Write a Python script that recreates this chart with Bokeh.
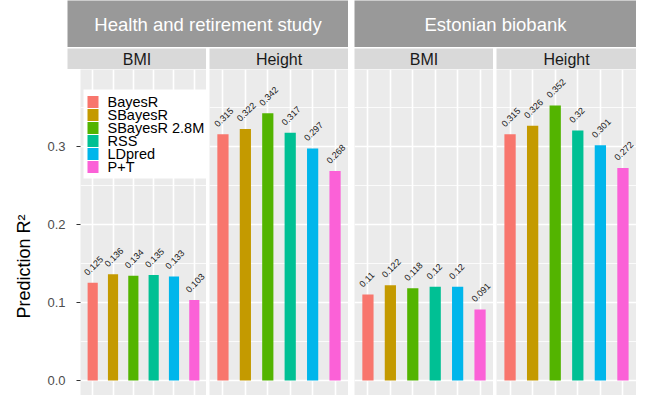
from bokeh.plotting import figure
from bokeh.models import (ColumnDataSource, Range1d, FixedTicker, Label, Title, Spacer,
                          BoxAnnotation)
from bokeh.layouts import row, column
from bokeh.embed import file_html
from bokeh.resources import INLINE
from bokeh.core.properties import value

# ---------------- data ----------------
methods = ["BayesR", "SBayesR", "SBayesR 2.8M", "RSS", "LDpred", "P+T"]
colors = ["#F8766D", "#C49A00", "#53B400", "#00C094", "#00B6EB", "#FB61D7"]
studies = ["Health and retirement study", "Estonian biobank"]
traits = ["BMI", "Height"]
hrs_bmi = [0.125, 0.136, 0.134, 0.135, 0.133, 0.103]
hrs_height = [0.315, 0.322, 0.342, 0.317, 0.297, 0.268]
eb_bmi = [0.11, 0.122, 0.118, 0.12, 0.12, 0.091]
eb_height = [0.315, 0.326, 0.352, 0.32, 0.301, 0.272]
y_ticks = [0.0, 0.1, 0.2, 0.3]
y_tick_labels = ["0.0", "0.1", "0.2", "0.3"]
y_minor = [0.05, 0.15, 0.25, 0.35]
y_title = "Prediction R²"

# ---------------- layout constants ----------------
FONT = "Liberation Sans"
LEFT = 67
PW = [139, 139, 139, 140]
STRIP_H = 47
SUB_H = 21
PANEL_H = 326
Y0, Y1 = -0.0191, 0.398
# legend geometry (screen px, measured from the panel frame's bottom-left)
LEG_LEFT, LEG_RIGHT, LEG_BOTTOM, LEG_TOP = 3, 135, 217, 306
KEY_LEFT, KEY_RIGHT, KEY_H = 7, 18, 12
ROW0, ROW_STEP, TEXT_X = 293.5, 13.0, 27


def base_fig(width, height, left=0, bg="#EBEBEB", xr=None, yr=None, yaxis=False):
    f = figure(width=width + left, height=height,
               x_range=xr if xr is not None else Range1d(0, 1),
               y_range=yr if yr is not None else Range1d(0, 1),
               output_backend="svg", toolbar_location=None,
               x_axis_location=None, y_axis_location="left" if yaxis else None,
               min_border=0, min_border_left=left,
               background_fill_color=bg, border_fill_color="white",
               outline_line_color=None)
    return f


def make_strip(text, width, height, fill, color, size, left=0, x_off=0):
    s = base_fig(width, height, left=left, bg=fill)
    s.grid.visible = False
    s.add_layout(Label(x=0.5, y=0.5, text=text, text_align="center", text_baseline="middle",
                       text_font=FONT, text_font_size=size, text_color=color, x_offset=x_off))
    return s


def screen_box(left, right, bottom, top, color):
    return BoxAnnotation(left=left, right=right, bottom=bottom, top=top,
                         left_units="screen", right_units="screen",
                         bottom_units="screen", top_units="screen",
                         fill_color=color, fill_alpha=1.0, line_color=None,
                         level="annotation")


def make_panel(vals, width, with_axis=False, with_legend=False):
    n = len(methods)
    xs = list(range(1, n + 1))
    src = ColumnDataSource(dict(x=xs, top=vals, color=colors, method=methods,
                                label=[f"{v:g}" for v in vals]))
    p = base_fig(width, PANEL_H, left=LEFT if with_axis else 0,
                 xr=Range1d(0.4, n + 0.6), yr=Range1d(Y0, Y1), yaxis=with_axis)
    p.xgrid.ticker = FixedTicker(ticks=xs, minor_ticks=[])
    p.xgrid.grid_line_color = "white"
    p.xgrid.grid_line_width = 1.6
    p.ygrid.ticker = FixedTicker(ticks=y_ticks, minor_ticks=y_minor)
    p.ygrid.grid_line_color = "white"
    p.ygrid.grid_line_width = 1.6
    p.ygrid.minor_grid_line_color = "white"
    p.ygrid.minor_grid_line_width = 0.8

    p.vbar(x="x", top="top", bottom=0, width=0.5, source=src,
           fill_color="color", line_color=None)
    p.text(x="x", y="top", text="label", source=src, angle=45, angle_units="deg",
           text_align="left", text_baseline="middle", x_offset=-7, y_offset=-9,
           text_font=value(FONT), text_font_size="9px", text_color="#1A1A1A")

    if with_axis:
        ax = p.yaxis[0]
        ax.ticker = FixedTicker(ticks=y_ticks, minor_ticks=[])
        ax.major_label_overrides = {t: l for t, l in zip(y_ticks, y_tick_labels)}
        ax.axis_line_color = None
        ax.major_tick_in = 0
        ax.major_tick_out = 4
        ax.minor_tick_out = 0
        ax.minor_tick_in = 0
        ax.major_tick_line_color = "#333333"
        ax.major_label_standoff = 11
        ax.major_label_text_font = FONT
        ax.major_label_text_font_size = "13px"
        ax.major_label_text_color = "#4D4D4D"
        t = Title(text=y_title, align="left", offset=77, standoff=22,
                  text_font=FONT, text_font_size="18px", text_font_style="normal",
                  text_color="black")
        p.add_layout(t, "left")

    if with_legend:
        p.add_layout(screen_box(LEG_LEFT, LEG_RIGHT, LEG_BOTTOM, LEG_TOP, "white"))
        for i, (m, c) in enumerate(zip(methods, colors)):
            cy = ROW0 - i * ROW_STEP
            p.add_layout(screen_box(KEY_LEFT, KEY_RIGHT, cy - KEY_H / 2, cy + KEY_H / 2, c))
            p.add_layout(Label(x=TEXT_X, y=cy, x_units="screen", y_units="screen", text=m,
                               text_align="left", text_baseline="middle",
                               text_font=FONT, text_font_size="14.5px", text_color="black"))
    return p


strip_hrs = make_strip(studies[0], PW[0] + 3 + PW[1], STRIP_H, "#999999", "white", "18.5px",
                       left=LEFT)
strip_eb = make_strip(studies[1], PW[2] + 3 + PW[3], STRIP_H, "#999999", "white", "18.5px")
sub1 = make_strip(traits[0], PW[0], SUB_H, "#D9D9D9", "#1A1A1A", "16px", left=LEFT)
sub2 = make_strip(traits[1], PW[1], SUB_H, "#D9D9D9", "#1A1A1A", "16px")
sub3 = make_strip(traits[0], PW[2], SUB_H, "#D9D9D9", "#1A1A1A", "16px")
sub4 = make_strip(traits[1], PW[3], SUB_H, "#D9D9D9", "#1A1A1A", "16px")

p1 = make_panel(hrs_bmi, PW[0], with_axis=True, with_legend=True)
p2 = make_panel(hrs_height, PW[1])
p3 = make_panel(eb_bmi, PW[2])
p4 = make_panel(eb_height, PW[3])

w_hrs = LEFT + PW[0] + 3 + PW[1]
w_eb = PW[2] + 3 + PW[3]
hrs = column(strip_hrs, Spacer(width=w_hrs, height=1),
             row(sub1, Spacer(width=3, height=SUB_H), sub2),
             row(p1, Spacer(width=3, height=PANEL_H), p2))
eb = column(strip_eb, Spacer(width=w_eb, height=1),
            row(sub3, Spacer(width=3, height=SUB_H), sub4),
            row(p3, Spacer(width=3, height=PANEL_H), p4))
layout = row(hrs, Spacer(width=6, height=STRIP_H + 1 + SUB_H + PANEL_H), eb)

open("out.html", "w").write(file_html(layout, INLINE))
